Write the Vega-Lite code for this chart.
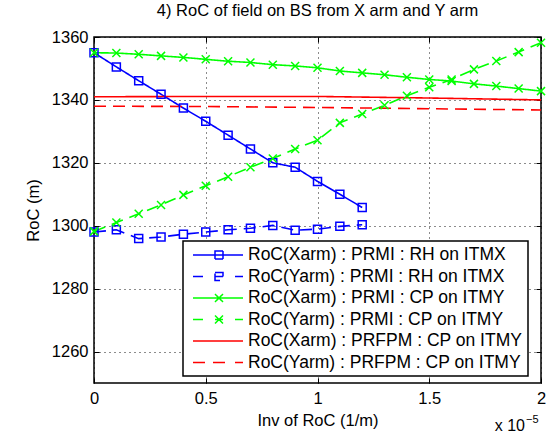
{
  "$schema": "https://vega.github.io/schema/vega-lite/v6.json",
  "autosize": {"type": "none"},
  "width": 447,
  "height": 346,
  "padding": {"left": 94, "top": 37, "right": 12, "bottom": 52},
  "background": "white",
  "title": {"text": "4) RoC of field on BS from X arm and Y arm", "font": "Liberation Sans", "fontSize": 16.5, "fontWeight": "normal", "color": "black", "offset": 10, "anchor": "middle"},
  "config": {"view": {"stroke": "black", "strokeWidth": 1.5}, "font": "Liberation Sans"},
  "datasets": {
    "roc": [
      {"s": "RoC(Xarm) : PRMI : RH on ITMX", "x": 0, "y": 1355.0},
      {"s": "RoC(Xarm) : PRMI : RH on ITMX", "x": 1e-6, "y": 1350.5},
      {"s": "RoC(Xarm) : PRMI : RH on ITMX", "x": 2e-6, "y": 1346.1},
      {"s": "RoC(Xarm) : PRMI : RH on ITMX", "x": 3e-6, "y": 1341.8},
      {"s": "RoC(Xarm) : PRMI : RH on ITMX", "x": 4e-6, "y": 1337.4},
      {"s": "RoC(Xarm) : PRMI : RH on ITMX", "x": 5e-6, "y": 1333.2},
      {"s": "RoC(Xarm) : PRMI : RH on ITMX", "x": 6e-6, "y": 1328.8},
      {"s": "RoC(Xarm) : PRMI : RH on ITMX", "x": 7e-6, "y": 1324.4},
      {"s": "RoC(Xarm) : PRMI : RH on ITMX", "x": 8e-6, "y": 1320.0},
      {"s": "RoC(Xarm) : PRMI : RH on ITMX", "x": 9e-6, "y": 1318.6},
      {"s": "RoC(Xarm) : PRMI : RH on ITMX", "x": 1e-5, "y": 1314.1},
      {"s": "RoC(Xarm) : PRMI : RH on ITMX", "x": 1.1e-5, "y": 1310.0},
      {"s": "RoC(Xarm) : PRMI : RH on ITMX", "x": 1.2e-5, "y": 1305.8},
      {"s": "RoC(Yarm) : PRMI : RH on ITMX", "x": 0, "y": 1298.0},
      {"s": "RoC(Yarm) : PRMI : RH on ITMX", "x": 1e-6, "y": 1298.7},
      {"s": "RoC(Yarm) : PRMI : RH on ITMX", "x": 2e-6, "y": 1295.9},
      {"s": "RoC(Yarm) : PRMI : RH on ITMX", "x": 3e-6, "y": 1296.4},
      {"s": "RoC(Yarm) : PRMI : RH on ITMX", "x": 4e-6, "y": 1297.3},
      {"s": "RoC(Yarm) : PRMI : RH on ITMX", "x": 5e-6, "y": 1298.0},
      {"s": "RoC(Yarm) : PRMI : RH on ITMX", "x": 6e-6, "y": 1298.7},
      {"s": "RoC(Yarm) : PRMI : RH on ITMX", "x": 7e-6, "y": 1299.2},
      {"s": "RoC(Yarm) : PRMI : RH on ITMX", "x": 8e-6, "y": 1300.1},
      {"s": "RoC(Yarm) : PRMI : RH on ITMX", "x": 9e-6, "y": 1298.6},
      {"s": "RoC(Yarm) : PRMI : RH on ITMX", "x": 1e-5, "y": 1298.9},
      {"s": "RoC(Yarm) : PRMI : RH on ITMX", "x": 1.1e-5, "y": 1299.8},
      {"s": "RoC(Yarm) : PRMI : RH on ITMX", "x": 1.2e-5, "y": 1300.3},
      {"s": "RoC(Xarm) : PRMI : CP on ITMY", "x": 0, "y": 1355.0},
      {"s": "RoC(Xarm) : PRMI : CP on ITMY", "x": 1e-6, "y": 1354.9},
      {"s": "RoC(Xarm) : PRMI : CP on ITMY", "x": 2e-6, "y": 1354.5},
      {"s": "RoC(Xarm) : PRMI : CP on ITMY", "x": 3e-6, "y": 1354.0},
      {"s": "RoC(Xarm) : PRMI : CP on ITMY", "x": 4e-6, "y": 1353.5},
      {"s": "RoC(Xarm) : PRMI : CP on ITMY", "x": 5e-6, "y": 1352.9},
      {"s": "RoC(Xarm) : PRMI : CP on ITMY", "x": 6e-6, "y": 1352.3},
      {"s": "RoC(Xarm) : PRMI : CP on ITMY", "x": 7e-6, "y": 1351.9},
      {"s": "RoC(Xarm) : PRMI : CP on ITMY", "x": 8e-6, "y": 1351.2},
      {"s": "RoC(Xarm) : PRMI : CP on ITMY", "x": 9e-6, "y": 1350.8},
      {"s": "RoC(Xarm) : PRMI : CP on ITMY", "x": 1e-5, "y": 1350.2},
      {"s": "RoC(Xarm) : PRMI : CP on ITMY", "x": 1.1e-5, "y": 1349.2},
      {"s": "RoC(Xarm) : PRMI : CP on ITMY", "x": 1.2e-5, "y": 1348.6},
      {"s": "RoC(Xarm) : PRMI : CP on ITMY", "x": 1.3e-5, "y": 1348.0},
      {"s": "RoC(Xarm) : PRMI : CP on ITMY", "x": 1.4e-5, "y": 1347.2},
      {"s": "RoC(Xarm) : PRMI : CP on ITMY", "x": 1.5e-5, "y": 1346.5},
      {"s": "RoC(Xarm) : PRMI : CP on ITMY", "x": 1.6e-5, "y": 1346.0},
      {"s": "RoC(Xarm) : PRMI : CP on ITMY", "x": 1.7e-5, "y": 1345.1},
      {"s": "RoC(Xarm) : PRMI : CP on ITMY", "x": 1.8e-5, "y": 1344.4},
      {"s": "RoC(Xarm) : PRMI : CP on ITMY", "x": 1.9e-5, "y": 1343.6},
      {"s": "RoC(Xarm) : PRMI : CP on ITMY", "x": 2e-5, "y": 1342.8},
      {"s": "RoC(Yarm) : PRMI : CP on ITMY", "x": 0, "y": 1298.2},
      {"s": "RoC(Yarm) : PRMI : CP on ITMY", "x": 1e-6, "y": 1301.0},
      {"s": "RoC(Yarm) : PRMI : CP on ITMY", "x": 2e-6, "y": 1303.8},
      {"s": "RoC(Yarm) : PRMI : CP on ITMY", "x": 3e-6, "y": 1306.6},
      {"s": "RoC(Yarm) : PRMI : CP on ITMY", "x": 4e-6, "y": 1309.8},
      {"s": "RoC(Yarm) : PRMI : CP on ITMY", "x": 5e-6, "y": 1312.7},
      {"s": "RoC(Yarm) : PRMI : CP on ITMY", "x": 6e-6, "y": 1315.6},
      {"s": "RoC(Yarm) : PRMI : CP on ITMY", "x": 7e-6, "y": 1318.6},
      {"s": "RoC(Yarm) : PRMI : CP on ITMY", "x": 8e-6, "y": 1321.4},
      {"s": "RoC(Yarm) : PRMI : CP on ITMY", "x": 9e-6, "y": 1324.4},
      {"s": "RoC(Yarm) : PRMI : CP on ITMY", "x": 1e-5, "y": 1327.2},
      {"s": "RoC(Yarm) : PRMI : CP on ITMY", "x": 1.1e-5, "y": 1332.7},
      {"s": "RoC(Yarm) : PRMI : CP on ITMY", "x": 1.2e-5, "y": 1335.5},
      {"s": "RoC(Yarm) : PRMI : CP on ITMY", "x": 1.3e-5, "y": 1338.3},
      {"s": "RoC(Yarm) : PRMI : CP on ITMY", "x": 1.4e-5, "y": 1341.3},
      {"s": "RoC(Yarm) : PRMI : CP on ITMY", "x": 1.5e-5, "y": 1344.0},
      {"s": "RoC(Yarm) : PRMI : CP on ITMY", "x": 1.6e-5, "y": 1346.5},
      {"s": "RoC(Yarm) : PRMI : CP on ITMY", "x": 1.7e-5, "y": 1349.7},
      {"s": "RoC(Yarm) : PRMI : CP on ITMY", "x": 1.8e-5, "y": 1352.4},
      {"s": "RoC(Yarm) : PRMI : CP on ITMY", "x": 1.9e-5, "y": 1355.2},
      {"s": "RoC(Yarm) : PRMI : CP on ITMY", "x": 2e-5, "y": 1358.2},
      {"s": "RoC(Xarm) : PRFPM : CP on ITMY", "x": 0, "y": 1341.0},
      {"s": "RoC(Xarm) : PRFPM : CP on ITMY", "x": 5e-6, "y": 1341.1},
      {"s": "RoC(Xarm) : PRFPM : CP on ITMY", "x": 1e-5, "y": 1341.1},
      {"s": "RoC(Xarm) : PRFPM : CP on ITMY", "x": 1.5e-5, "y": 1340.6},
      {"s": "RoC(Xarm) : PRFPM : CP on ITMY", "x": 2e-5, "y": 1340.0},
      {"s": "RoC(Yarm) : PRFPM : CP on ITMY", "x": 0, "y": 1338.0},
      {"s": "RoC(Yarm) : PRFPM : CP on ITMY", "x": 5e-6, "y": 1337.9},
      {"s": "RoC(Yarm) : PRFPM : CP on ITMY", "x": 1e-5, "y": 1337.6},
      {"s": "RoC(Yarm) : PRFPM : CP on ITMY", "x": 1.5e-5, "y": 1337.2},
      {"s": "RoC(Yarm) : PRFPM : CP on ITMY", "x": 2e-5, "y": 1336.8}
    ]
  },
  "data": {"name": "roc"},
  "layer": [
    {
      "mark": {"type": "line", "strokeWidth": 1.6, "clip": false},
      "encoding": {
        "x": {"field": "x", "type": "quantitative", "scale": {"domain": [0, 0.00002], "nice": false, "zero": false},
          "axis": {"orient": "bottom", "values": [0, 0.000005, 0.00001, 0.000015, 0.00002], "labelExpr": "format(datum.value*100000, '~g')", "title": "Inv of RoC (1/m)", "titleFont": "Liberation Sans", "titleFontSize": 16.5, "titleFontWeight": "normal", "titleColor": "black", "titlePadding": 6, "labelFont": "Liberation Sans", "labelFontSize": 16.5, "labelColor": "black", "labelPadding": 12, "labelFlush": false, "grid": true, "gridColor": "black", "gridDash": [1, 4], "gridWidth": 1, "gridOpacity": 0.9, "domain": false, "ticks": true, "tickColor": "black", "tickSize": -5, "tickWidth": 1}},
        "y": {"field": "y", "type": "quantitative", "scale": {"domain": [1250, 1360], "nice": false, "zero": false},
          "axis": {"orient": "left", "values": [1260, 1280, 1300, 1320, 1340, 1360], "format": "d", "title": "RoC (m)", "titleFont": "Liberation Sans", "titleFontSize": 16.5, "titleFontWeight": "normal", "titleColor": "black", "titlePadding": 10, "labelFont": "Liberation Sans", "labelFontSize": 16.5, "labelColor": "black", "labelPadding": 11, "labelFlush": false, "grid": true, "gridColor": "black", "gridDash": [1, 4], "gridWidth": 1, "gridOpacity": 0.9, "domain": false, "ticks": true, "tickColor": "black", "tickSize": -5, "tickWidth": 1}},
        "color": {"field": "s", "type": "nominal",
          "scale": {"domain": ["RoC(Xarm) : PRMI : RH on ITMX", "RoC(Yarm) : PRMI : RH on ITMX", "RoC(Xarm) : PRMI : CP on ITMY", "RoC(Yarm) : PRMI : CP on ITMY", "RoC(Xarm) : PRFPM : CP on ITMY", "RoC(Yarm) : PRFPM : CP on ITMY"], "range": ["#0000ff", "#0000ff", "#00ff00", "#00ff00", "#ff0000", "#ff0000"]},
          "legend": {"orient": "none", "legendX": 89, "legendY": 204, "title": null, "padding": 5, "rowPadding": 3.5, "labelFont": "Liberation Sans", "labelFontSize": 17.5, "labelColor": "black", "labelLimit": 600, "labelOffset": 42, "symbolSize": 256, "symbolStrokeWidth": 1.5, "fillColor": "white", "strokeColor": "black", "cornerRadius": 0,
            "encode": {
              "symbols": {"update": {"shape": {"signal": "['M-0.5,0H5.75M2.25,-0.5H3.25V0.5H2.25Z', 'M-0.5,0H0.75M2.25,0H3.25M4.75,0H5.75M2.25,-0.5H3.25V0.5H2.25Z', 'M-0.5,0H5.75M2.25,-0.5L3.25,0.5M2.25,0.5L3.25,-0.5', 'M-0.5,0H0.75M4.75,0H5.75M2.25,0H3.25M2.25,-0.5L3.25,0.5M2.25,0.5L3.25,-0.5', 'M-0.5,0H5.75', 'M-0.5,0H1.1M2,0H3.75M4.75,0H5.75'][indexof(domain('color'), datum.value)]"}, "fill": {"value": "transparent"}, "strokeWidth": {"value": 1.5}, "opacity": {"value": 1}}},
              "legend": {"update": {"strokeWidth": {"value": 1.5}}}
            }}},
        "strokeDash": {"field": "s", "type": "nominal",
          "scale": {"domain": ["RoC(Xarm) : PRMI : RH on ITMX", "RoC(Yarm) : PRMI : RH on ITMX", "RoC(Xarm) : PRMI : CP on ITMY", "RoC(Yarm) : PRMI : CP on ITMY", "RoC(Xarm) : PRFPM : CP on ITMY", "RoC(Yarm) : PRFPM : CP on ITMY"], "range": [[1, 0], [12, 7], [1, 0], [12, 7], [1, 0], [12, 7]]},
          "legend": null}
      }
    },
    {
      "transform": [{"filter": {"field": "s", "oneOf": ["RoC(Xarm) : PRMI : RH on ITMX", "RoC(Yarm) : PRMI : RH on ITMX"]}}],
      "mark": {"type": "point", "shape": "square", "size": 64, "strokeWidth": 1.5, "filled": false, "opacity": 1, "clip": false},
      "encoding": {
        "x": {"field": "x", "type": "quantitative", "axis": {"orient": "top", "values": [0, 0.000005, 0.00001, 0.000015, 0.00002], "labels": false, "title": null, "grid": false, "domain": false, "ticks": true, "tickColor": "black", "tickSize": -5, "tickWidth": 1}},
        "y": {"field": "y", "type": "quantitative", "axis": {"orient": "right", "values": [1260, 1280, 1300, 1320, 1340, 1360], "labels": false, "title": null, "grid": false, "domain": false, "ticks": true, "tickColor": "black", "tickSize": -5, "tickWidth": 1}},
        "color": {"field": "s", "type": "nominal"}
      }
    },
    {
      "transform": [{"filter": {"field": "s", "oneOf": ["RoC(Xarm) : PRMI : CP on ITMY", "RoC(Yarm) : PRMI : CP on ITMY"]}}],
      "mark": {"type": "point", "shape": "M-1,-1L1,1M-1,1L1,-1", "size": 64, "strokeWidth": 1.5, "filled": false, "opacity": 1, "clip": false},
      "encoding": {
        "x": {"field": "x", "type": "quantitative", "axis": null},
        "y": {"field": "y", "type": "quantitative", "axis": null},
        "color": {"field": "s", "type": "nominal"}
      }
    },
    {
      "data": {"values": [{"t": "x 10"}]},
      "mark": {"type": "text", "align": "right", "baseline": "alphabetic", "dx": -16, "dy": 48, "font": "Liberation Sans", "fontSize": 16, "color": "black"},
      "encoding": {"x": {"datum": 0.00002, "type": "quantitative", "axis": null}, "y": {"datum": 1250, "type": "quantitative", "axis": null}, "text": {"field": "t"}}
    },
    {
      "data": {"values": [{"t": "−5"}]},
      "mark": {"type": "text", "align": "left", "baseline": "alphabetic", "dx": -15, "dy": 40, "font": "Liberation Sans", "fontSize": 11, "color": "black"},
      "encoding": {"x": {"datum": 0.00002, "type": "quantitative", "axis": null}, "y": {"datum": 1250, "type": "quantitative", "axis": null}, "text": {"field": "t"}}
    }
  ]
}
